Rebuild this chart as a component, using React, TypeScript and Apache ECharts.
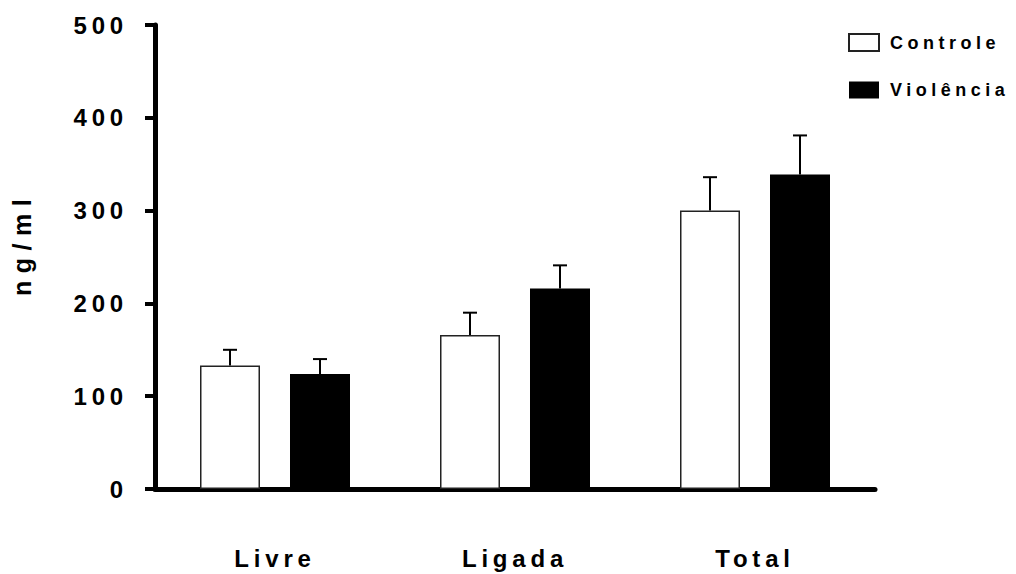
import React, { useEffect, useRef } from "react";
import * as echarts from "echarts";

const categories = ["Livre", "Ligada", "Total"];
const controleMeans = [133, 166, 300];
const controleErrors = [17, 24, 36];
const violenciaMeans = [124, 216, 339];
const violenciaErrors = [16, 25, 42];
const yTicks = { min: 0, max: 500, interval: 100 };
const seriesNames = ["Controle", "Violência"];
const yAxisTitle = "ng/ml";

const FONT = "'Liberation Sans', Arial, sans-serif";

export default function App() {
  const ref = useRef<HTMLDivElement>(null);

  useEffect(() => {
    if (!ref.current) return;
    const chart = echarts.init(ref.current, undefined, { renderer: "svg" });

    const makeErr = (means: number[], errs: number[]) =>
      means.map((m, i) => [i, m, errs[i]]);

    const errRender = (offset: number) => (params: any, api: any) => {
      const c = api.value(0);
      const m = api.value(1);
      const e = api.value(2);
      const base = api.coord([c, m]);
      const top = api.coord([c, m + e]);
      const x = base[0] + offset;
      const style = { stroke: "#000", lineWidth: 2 };
      return {
        type: "group",
        children: [
          { type: "line", shape: { x1: x, y1: base[1], x2: x, y2: top[1] }, style },
          { type: "line", shape: { x1: x - 7, y1: top[1], x2: x + 7, y2: top[1] }, style },
        ],
      };
    };

    chart.setOption({
      animation: false,
      backgroundColor: "#fff",
      textStyle: { fontFamily: FONT },
      grid: { left: 155, right: 141, top: 25, bottom: 85 },
      legend: {
        data: [seriesNames[0], seriesNames[1]],
        orient: "vertical",
        left: 843,
        top: 28,
        itemWidth: 30,
        itemHeight: 17,
        itemGap: 29,
        icon: "rect",
        textStyle: {
          fontFamily: FONT,
          fontSize: 18,
          fontWeight: "bold",
          color: "#000",
          padding: [0, 0, 0, 6],
        },
      },
      xAxis: {
        type: "category",
        data: categories,
        axisLine: { lineStyle: { color: "#000", width: 5 } },
        axisTick: { alignWithLabel: true, length: 8, lineStyle: { color: "#000", width: 4 } },
        axisLabel: {
          margin: 57,
          fontFamily: FONT,
          fontSize: 24,
          fontWeight: "bold",
          color: "#000",
        },
        splitLine: { show: false },
      },
      yAxis: {
        type: "value",
        min: yTicks.min,
        max: yTicks.max,
        interval: yTicks.interval,
        axisLine: { show: true, lineStyle: { color: "#000", width: 5 } },
        axisTick: { show: true, length: 10, lineStyle: { color: "#000", width: 4 } },
        axisLabel: {
          margin: 27,
          fontFamily: FONT,
          fontSize: 24,
          fontWeight: "bold",
          color: "#000",
        },
        splitLine: { show: false },
      },
      graphic: [
        {
          type: "text",
          x: 22,
          y: 244,
          rotation: Math.PI / 2,
          style: {
            text: yAxisTitle,
            fontFamily: FONT,
            fontSize: 25,
            fontWeight: "bold",
            fill: "#000",
            textAlign: "center",
            textVerticalAlign: "middle",
          },
        },
      ],
      series: [
        {
          name: seriesNames[0],
          type: "bar",
          data: controleMeans,
          barWidth: 60,
          barGap: "50%",
          itemStyle: { color: "#fff", borderColor: "#222", borderWidth: 1.5 },
        },
        {
          name: seriesNames[1],
          type: "bar",
          data: violenciaMeans,
          barWidth: 60,
          barGap: "50%",
          itemStyle: { color: "#000", borderColor: "#000", borderWidth: 0 },
        },
        {
          type: "custom",
          renderItem: errRender(-45),
          data: makeErr(controleMeans, controleErrors),
          encode: { x: 0, y: 1 },
          z: 5,
        },
        {
          type: "custom",
          renderItem: errRender(45),
          data: makeErr(violenciaMeans, violenciaErrors),
          encode: { x: 0, y: 1 },
          z: 5,
        },
      ],
    });

    return () => chart.dispose();
  }, []);

  return (
    <>
      <style>{`.chart-box text { letter-spacing: 0.2em; } .chart-box text[style*="18px"] { letter-spacing: 0.25em; } .chart-box text[style*="25px"] { letter-spacing: 0.3em; }`}</style>
      <div
        ref={ref}
        className="chart-box"
        style={{ position: "absolute", left: 0, top: 0, width: 1016, height: 574, background: "#fff" }}
      />
    </>
  );
}
